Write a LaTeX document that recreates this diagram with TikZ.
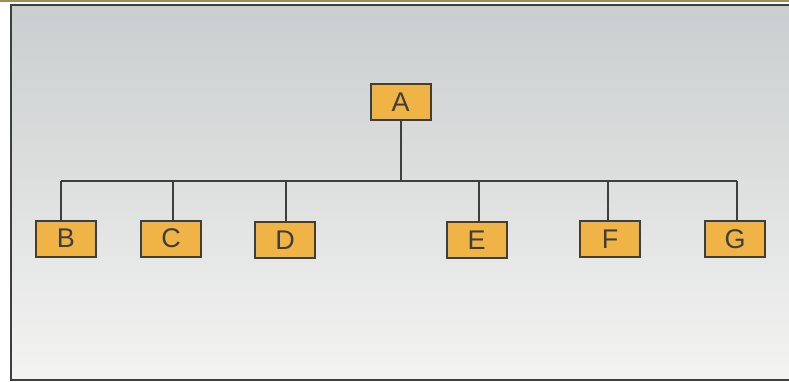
\documentclass[tikz,border=0pt]{standalone}
\usepackage{fontspec}
\setsansfont{Liberation Sans}
\usepackage{xcolor}
\definecolor{boxColor}{HTML}{F0B346}
\definecolor{lineColor}{HTML}{3E3E3C}
\definecolor{paperTop}{HTML}{CACECE}
\definecolor{paperBottom}{HTML}{F3F3F2}
\definecolor{stripColor}{HTML}{9C8C5E}
\usetikzlibrary{positioning}

\begin{document}
\begin{tikzpicture}[x=1pt, y=-1pt,
  box/.style={draw=lineColor, fill=boxColor, line width=2pt, inner sep=0pt,
    minimum width=60pt, minimum height=36pt, text=lineColor,
    font=\sffamily\fontsize{27}{27}\selectfont},
  link/.style={draw=lineColor, line width=2pt}]
  \useasboundingbox (0,0) rectangle (789,382);
  % paper and frame
  \fill[white] (0,0) rectangle (789,382);
  \shade[top color=paperTop, bottom color=paperBottom] (11,5) rectangle (789,379);
  \fill[stripColor] (0,0) rectangle (789,2.5);
  \draw[lineColor, line width=2pt] (789,5) -- (11,5) -- (11,380) -- (789,380);

  \node[box] (A) at (400.5,102) {A};

  \node[box] (B) at (66,238.5) {B};
  \node[box] (C) at (171,238.5) {C};
  \node[box] (D) at (285,240) {D};
  \node[box] (E) at (476.5,240) {E};
  \node[box] (F) at (610,239) {F};
  \node[box] (G) at (735,239) {G};

  % bus
  \coordinate (busA) at (400.5,181);
  \foreach \n/\x in {B/61,C/173,D/286,E/479,F/608,G/737}
  \coordinate (bus\n) at (\x,181);

  \draw[link] (A.south) -- (busA);
  \draw[link] (busB) -- (busG);
  \foreach \n in {B,C,D,E,F,G}
  \draw[link] (bus\n) -- (bus\n |- \n.north);
\end{tikzpicture}
\end{document}
